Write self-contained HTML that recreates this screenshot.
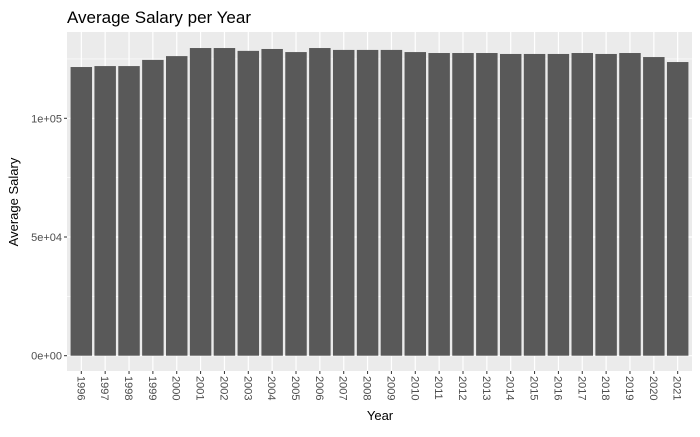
<!DOCTYPE html>
<html><head><meta charset="utf-8"><style>
body{margin:0;background:#fff;font-family:"Liberation Sans",sans-serif;}
svg text{font-family:"Liberation Sans",sans-serif;}
</style></head><body>
<svg id="c" width="700" height="432">
<rect width="700" height="432" fill="#fff"/>
<text x="67" y="23" font-size="17" fill="#000">Average Salary per Year</text>
<rect id="panel" x="67" y="32" width="625" height="339" fill="#ebebeb"/>
<g id="grid"></g><g id="bars"></g><g id="axes"></g>
<text x="380" y="420" font-size="13" text-anchor="middle" fill="#000">Year</text>
<text transform="translate(18,202) rotate(-90)" font-size="13" text-anchor="middle" fill="#000">Average Salary</text>
</svg>
<script>
const years=["1996","1997","1998","1999","2000","2001","2002","2003","2004","2005","2006","2007","2008","2009","2010","2011","2012","2013","2014","2015","2016","2017","2018","2019","2020","2021"];
const salaries=[121600,122000,122000,124600,126200,129600,129600,128400,129200,127900,129600,128800,128800,128800,127900,127500,127500,127500,127100,127100,127100,127500,127100,127500,125800,123700];
const yTicks=[0,50000,100000];
const yTickLabels=["0e+00","5e+04","1e+05"];
const yMinor=[25000,75000,125000];
const NS="http://www.w3.org/2000/svg";
const L=67,R=692,T=32,B=371;
const y0=355.7,pxPer=237.4/100000;
function ys(v){return y0-v*pxPer;}
const step=(R-L)/(years.length-1+1.2);
function xs(i){return L+step*(0.6+i);}
function mk(tag,attrs,parent){const e=document.createElementNS(NS,tag);for(const k in attrs)e.setAttribute(k,attrs[k]);parent.appendChild(e);return e;}
const grid=document.getElementById('grid'),bars=document.getElementById('bars'),axes=document.getElementById('axes');
yMinor.forEach(v=>{const l=mk('line',{x1:L,x2:R,y1:ys(v),y2:ys(v),stroke:'#fff','stroke-width':0.6},grid);

});
yTicks.forEach((v,i)=>{const l=mk('line',{x1:L,x2:R,y1:ys(v),y2:ys(v),stroke:'#fff','stroke-width':1.2},grid);


const t=mk('line',{x1:L-3,x2:L,y1:ys(v),y2:ys(v),stroke:'#333','stroke-width':1},axes);


const tx=mk('text',{x:L-5,y:ys(v)+4,'font-size':11,'text-anchor':'end',fill:'#4d4d4d'},axes);tx.textContent=yTickLabels[i];

});
const bw=step*0.9;
years.forEach((yr,i)=>{const x=xs(i);
const g=mk('line',{x1:x,x2:x,y1:T,y2:B,stroke:'#fff','stroke-width':1.2},grid);


const r=mk('rect',{x:x-bw/2,y:ys(salaries[i]),width:bw,height:ys(0)-ys(salaries[i]),fill:'#595959'},bars);


const t=mk('line',{x1:x,x2:x,y1:B,y2:B+3,stroke:'#333','stroke-width':1},axes);


const tx=mk('text',{transform:`translate(${x-4},${B+5}) rotate(90)`,'font-size':11,fill:'#4d4d4d'},axes);tx.textContent=yr;

});
</script>
</body></html>
